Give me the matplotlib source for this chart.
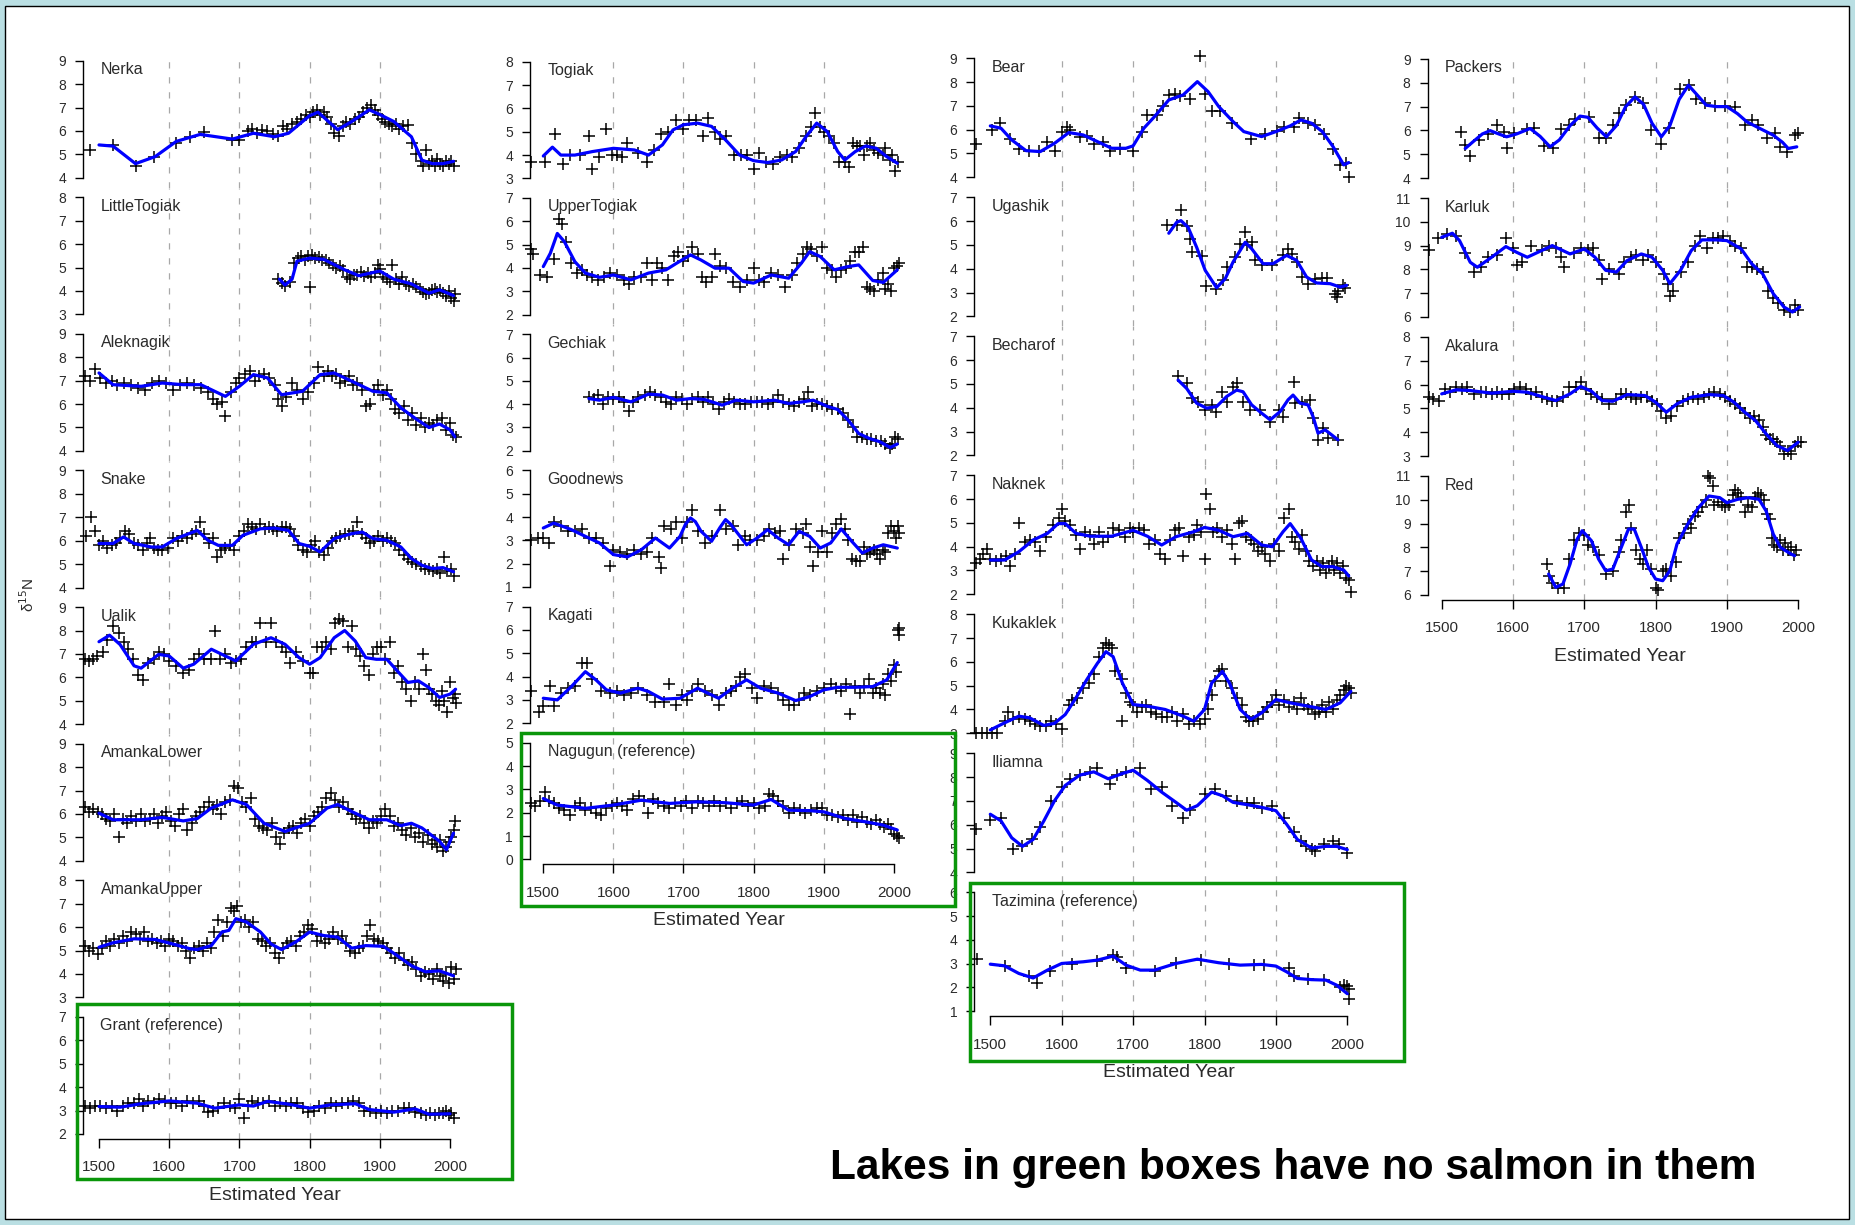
import matplotlib
matplotlib.use('Agg')
import matplotlib.pyplot as plt
from matplotlib.patches import Rectangle

plt.rcParams.update({
    'font.family': ['Liberation Sans', 'DejaVu Sans'],
    'axes.linewidth': 1.0,
})

# ---- data: (estimated year, d15N) samples and smoothed fits per lake ----
NERKA = [(1487,5.2),(1520,5.4),(1552,4.5),(1578,4.9),(1610,5.5),(1630,5.75),(1650,5.95),(1690,5.6),(1700,5.6),
         (1712,6.0),(1718,6.1),(1725,5.9),(1732,6.05),(1740,6.0),(1748,5.85),(1755,5.8),(1762,6.2),(1768,6.1),
         (1775,6.3),(1782,6.4),(1788,6.5),(1795,6.7),(1800,6.6),(1805,6.8),(1810,6.9),(1815,6.7),(1820,6.8),
         (1825,6.6),(1830,6.3),(1835,5.9),(1842,5.8),(1848,6.2),(1852,6.4),(1858,6.3),(1864,6.5),(1870,6.6),
         (1876,6.8),(1882,7.0),(1888,7.1),(1893,6.9),(1898,6.7),(1903,6.5),(1908,6.4),(1913,6.3),(1918,6.2),
         (1923,6.3),(1928,6.1),(1933,6.2),(1940,6.25),(1946,5.5),(1952,5.0),(1958,4.7),(1962,4.5),(1966,5.2),
         (1970,4.6),(1974,4.7),(1978,4.5),(1982,4.8),(1986,4.6),(1990,4.5),(1994,4.7),(1998,4.6),(2002,4.7),(2006,4.5)]
NERKA_FIT = [(1500,5.4),(1520,5.35),(1552,4.6),(1580,4.9),(1610,5.55),(1644,5.85),(1690,5.65),(1720,5.9),(1750,5.75),
             (1770,5.9),(1800,6.65),(1812,6.8),(1840,6.05),(1860,6.4),(1885,6.9),(1900,6.7),(1920,6.4),(1945,5.75),
             (1960,4.75),(1975,4.6),(1990,4.6),(2005,4.7)]

LITTLETOGIAK = [(1755,4.5),(1760,4.35),(1765,4.2),(1772,4.4),(1778,5.2),(1783,5.4),(1788,5.5),(1793,5.3),(1798,5.5),
                (1800,4.15),(1803,5.55),(1808,5.4),(1813,5.45),(1818,5.3),(1823,5.3),(1828,5.2),(1833,5.1),(1838,5.0),
                (1843,5.05),(1848,4.9),(1853,4.6),(1858,4.5),(1863,4.7),(1868,4.7),(1873,4.8),(1878,4.65),(1883,4.75),
                (1888,4.6),(1893,4.75),(1897,5.1),(1900,4.95),(1905,4.6),(1910,4.5),(1914,4.4),(1918,5.1),(1923,4.5),
                (1928,4.3),(1932,4.6),(1937,4.3),(1942,4.2),(1947,4.3),(1952,4.15),(1957,4.1),(1962,3.95),(1966,3.85),
                (1970,3.9),(1974,4.05),(1978,4.1),(1982,3.95),(1986,4.05),(1990,3.9),(1994,3.8),(1998,4.0),(2002,3.7),
                (2005,3.55),(2007,3.85)]
LITTLETOGIAK_FIT = [(1757,4.5),(1765,4.25),(1775,4.5),(1782,5.27),(1800,5.4),(1820,5.35),(1850,4.9),(1870,4.65),
                    (1900,4.85),(1920,4.5),(1945,4.3),(1970,3.9),(1985,4.05),(2005,3.8)]

ALEKNAGIK = [(1480,7.2),(1487,7.0),(1495,7.5),(1502,7.1),(1510,6.9),(1518,7.0),(1525,6.8),(1535,6.9),(1545,6.8),
             (1555,6.7),(1565,6.6),(1575,6.9),(1585,7.0),(1595,6.9),(1605,6.6),(1615,6.8),(1625,6.9),(1635,6.8),
             (1645,6.7),(1655,6.5),(1662,6.2),(1668,6.0),(1675,6.1),(1680,5.5),(1688,6.5),(1695,6.9),(1700,7.1),
             (1708,7.3),(1715,7.4),(1722,7.0),(1728,7.2),(1735,7.3),(1742,7.1),(1750,6.8),(1755,6.2),(1760,5.9),
             (1767,6.3),(1775,6.9),(1782,6.6),(1790,6.2),(1798,6.5),(1806,6.9),(1812,7.6),(1820,7.2),(1826,7.4),
             (1832,7.2),(1838,7.3),(1844,6.9),(1850,7.0),(1856,7.2),(1862,6.8),(1868,6.9),(1874,6.6),(1880,5.9),
             (1886,6.0),(1892,6.6),(1898,6.8),(1904,6.4),(1910,6.6),(1916,6.2),(1922,5.8),(1928,5.6),(1934,5.9),
             (1940,5.3),(1946,5.6),(1952,5.1),(1958,5.4),(1964,5.0),(1970,5.2),(1976,5.1),(1982,5.3),(1988,5.4),
             (1994,4.9),(2000,5.2),(2004,4.7),(2008,4.6)]
ALEKNAGIK_FIT = [(1500,7.33),(1520,6.83),(1560,6.76),(1590,6.9),(1620,6.83),(1645,6.83),(1680,6.33),(1700,6.76),
                 (1720,7.26),(1740,7.12),(1760,6.4),(1790,6.55),(1815,7.26),(1835,7.33),(1860,6.98),(1890,6.55),
                 (1910,6.48),(1930,5.84),(1950,5.4),(1970,5.0),(1985,5.15),(2000,4.9),(2007,4.6)]

SNAKE = [(1482,6.2),(1488,7.0),(1494,6.4),(1500,5.8),(1506,6.0),(1512,5.7),(1518,5.8),(1524,5.9),(1530,6.1),
         (1537,6.4),(1543,6.3),(1550,5.9),(1556,5.8),(1562,5.6),(1568,5.9),(1573,6.1),(1578,5.7),(1584,5.6),
         (1590,5.6),(1598,5.7),(1605,6.1),(1612,6.0),(1618,6.2),(1625,6.1),(1632,6.3),(1638,6.4),(1644,6.8),
         (1650,6.3),(1656,5.9),(1662,6.1),(1668,5.3),(1674,5.6),(1680,5.7),(1686,5.8),(1692,5.6),(1700,6.2),
         (1706,6.4),(1712,6.7),(1718,6.6),(1724,6.5),(1730,6.7),(1736,6.5),(1742,6.6),(1748,6.5),(1754,6.4),
         (1760,6.6),(1766,6.6),(1772,6.5),(1778,6.2),(1784,5.8),(1790,5.6),(1796,5.5),(1802,5.8),(1808,6.0),
         (1814,5.5),(1820,5.4),(1826,5.7),(1832,6.0),(1838,6.1),(1844,6.2),(1850,6.3),(1856,6.3),(1862,6.4),
         (1868,6.8),(1874,6.3),(1880,6.1),(1886,5.9),(1892,6.0),(1898,6.2),(1904,6.0),(1910,6.1),(1916,6.0),
         (1922,5.9),(1928,5.6),(1934,5.4),(1940,5.2),(1946,5.1),(1952,5.0),(1958,4.9),(1964,4.8),(1970,4.8),
         (1976,4.7),(1982,4.8),(1986,4.6),(1992,5.3),(1996,4.7),(2002,4.8),(2006,4.5)]
SNAKE_FIT = [(1500,5.88),(1520,5.88),(1535,6.16),(1550,5.88),(1575,5.73),(1590,5.73),(1610,6.09),(1640,6.44),
             (1655,6.02),(1670,5.8),(1690,5.8),(1705,6.23),(1730,6.51),(1750,6.54),(1770,6.44),(1785,5.88),
             (1800,5.76),(1815,5.52),(1835,6.09),(1860,6.3),(1875,6.37),(1890,6.09),(1910,6.02),(1930,5.73),
             (1945,5.24),(1960,4.95),(1975,4.81),(1990,4.85),(2005,4.67)]

UALIK = [(1480,6.8),(1486,6.7),(1492,6.8),(1497,6.9),(1505,7.1),(1512,7.6),(1520,8.2),(1528,7.9),(1535,7.5),
         (1542,7.2),(1548,6.8),(1555,6.1),(1562,5.9),(1570,6.6),(1578,6.8),(1585,7.1),(1592,7.0),(1600,6.7),
         (1610,6.5),(1620,6.2),(1628,6.3),(1635,6.8),(1643,7.0),(1650,6.8),(1660,6.8),(1665,8.0),(1672,6.8),
         (1680,7.0),(1688,6.6),(1695,6.7),(1702,6.8),(1710,7.3),(1718,7.5),(1724,7.5),(1730,8.3),(1738,7.5),
         (1745,8.3),(1752,7.5),(1760,7.3),(1766,7.1),(1772,6.6),(1780,7.1),(1790,6.7),(1800,6.2),(1805,6.2),
         (1810,7.3),(1818,7.3),(1824,7.5),(1830,7.2),(1836,8.3),(1842,8.5),(1848,8.4),(1854,7.3),(1860,8.2),
         (1866,7.2),(1872,6.9),(1878,6.5),(1884,6.1),(1890,7.0),(1896,7.3),(1902,7.3),(1908,6.8),(1914,7.5),
         (1920,6.2),(1926,6.5),(1932,5.8),(1938,5.5),(1944,5.0),(1950,5.8),(1956,5.5),(1962,7.0),(1966,6.3),
         (1970,5.5),(1975,5.3),(1980,5.0),(1984,4.8),(1988,5.4),(1992,5.0),(1996,4.5),(2000,5.8),(2004,5.1),
         (2007,5.3),(2009,4.9)]
UALIK_FIT = [(1500,7.52),(1515,7.8),(1530,7.4),(1550,6.49),(1560,6.39),(1585,6.98),(1600,6.91),(1620,6.39),
             (1635,6.56),(1660,7.2),(1680,6.91),(1695,6.7),(1720,7.41),(1745,7.69),(1765,7.41),(1785,6.84),
             (1800,6.56),(1815,6.84),(1835,7.69),(1850,8.0),(1865,7.55),(1880,6.84),(1895,6.77),(1910,6.77),
             (1925,6.27),(1940,5.78),(1955,5.85),(1970,5.56),(1985,5.14),(2000,5.28),(2008,5.49)]

AMANKALOWER = [(1480,6.3),(1486,6.1),(1492,6.2),(1498,6.1),(1504,6.0),(1510,5.8),(1516,5.7),(1522,6.0),(1528,5.0),
               (1534,5.8),(1540,5.6),(1546,5.9),(1552,5.7),(1560,6.0),(1566,5.7),(1572,5.8),(1578,6.0),(1584,5.6),
               (1590,5.9),(1596,6.1),(1602,5.7),(1608,5.5),(1614,6.0),(1620,6.2),(1626,5.3),(1632,5.6),(1638,5.9),
               (1644,6.1),(1650,6.3),(1656,6.5),(1662,6.2),(1668,6.4),(1674,6.0),(1680,6.5),(1686,6.6),(1692,7.2),
               (1698,7.1),(1704,6.5),(1710,6.3),(1716,6.7),(1722,5.8),(1728,5.5),(1734,5.4),(1740,5.3),(1746,5.6),
               (1752,5.0),(1758,4.7),(1764,5.2),(1770,5.4),(1776,5.5),(1782,5.2),(1788,5.6),(1794,5.8),(1800,5.5),
               (1806,5.9),(1812,6.1),(1818,6.3),(1824,6.7),(1830,6.9),(1836,6.6),(1842,6.3),(1848,6.5),(1854,6.2),
               (1860,6.0),(1866,5.8),(1872,5.9),(1878,5.6),(1884,5.4),(1890,5.7),(1896,5.6),(1902,5.9),(1908,6.2),
               (1914,5.9),(1920,5.5),(1926,5.6),(1932,5.3),(1938,5.1),(1944,5.4),(1950,5.0),(1956,5.2),(1962,4.8),
               (1968,5.1),(1974,4.7),(1978,4.9),(1982,4.6),(1986,4.9),(1990,4.4),(1994,4.6),(1998,4.8),(2002,5.0),
               (2005,5.3),(2007,5.7)]
AMANKALOWER_FIT = [(1500,6.03),(1520,5.75),(1560,5.75),(1590,5.85),(1620,5.7),(1640,5.8),(1660,6.25),(1690,6.6),
                   (1710,6.4),(1735,5.6),(1765,5.25),(1800,5.6),(1825,6.25),(1840,6.4),(1860,6.1),(1885,5.75),
                   (1910,5.75),(1930,5.5),(1945,5.6),(1960,5.4),(1985,4.83),(1995,4.47),(2005,5.18)]

AMANKAUPPER = [(1480,5.2),(1486,5.0),(1492,5.1),(1498,4.85),(1504,5.1),(1510,5.4),(1516,5.2),(1522,5.5),(1528,5.3),
               (1534,5.6),(1540,5.4),(1546,5.8),(1552,5.7),(1558,5.5),(1564,5.8),(1570,5.4),(1576,5.5),(1582,5.3),
               (1588,5.4),(1594,5.2),(1600,5.5),(1606,5.4),(1612,5.2),(1618,5.3),(1624,5.0),(1630,4.7),(1636,5.1),
               (1642,5.2),(1648,5.0),(1654,5.3),(1660,5.1),(1664,5.8),(1670,6.3),(1676,5.6),(1682,6.2),(1688,6.8),
               (1692,6.7),(1697,6.9),(1702,6.2),(1708,6.3),(1714,6.0),(1720,6.2),(1726,5.5),(1732,5.4),(1738,5.2),
               (1744,5.3),(1750,4.9),(1756,4.7),(1762,5.1),(1768,5.3),(1774,5.4),(1780,5.2),(1786,5.6),(1792,5.8),
               (1798,6.1),(1804,5.9),(1810,5.4),(1816,5.6),(1822,5.3),(1828,5.5),(1834,5.8),(1840,5.5),(1846,5.6),
               (1852,5.3),(1858,5.0),(1864,4.9),(1870,5.1),(1876,5.2),(1882,5.6),(1886,6.1),(1892,5.5),(1898,5.4),
               (1904,5.3),(1910,5.1),(1916,4.9),(1922,4.7),(1928,4.9),(1934,4.6),(1940,4.4),(1946,4.5),(1952,4.2),
               (1958,3.9),(1964,4.1),(1970,4.0),(1976,3.8),(1982,4.2),(1986,3.9),(1990,3.7),(1994,4.0),(1998,3.6),
               (2002,4.3),(2005,3.8),(2008,4.2)]
AMANKAUPPER_FIT = [(1500,5.14),(1520,5.33),(1550,5.5),(1580,5.47),(1610,5.24),(1630,5.07),(1640,5.04),(1660,5.21),
                   (1675,5.79),(1685,5.86),(1695,6.36),(1710,6.22),(1730,5.79),(1745,5.28),(1760,5.04),(1780,5.36),
                   (1800,5.79),(1820,5.64),(1840,5.57),(1860,5.1),(1880,5.21),(1905,5.18),(1925,4.78),(1945,4.35),
                   (1965,4.09),(1985,4.13),(2005,3.92)]

GRANT = [(1480,3.2),(1487,3.1),(1494,3.2),(1502,3.2),(1510,3.1),(1518,3.2),(1526,3.0),(1534,3.2),(1542,3.3),
         (1550,3.3),(1557,3.5),(1563,3.2),(1570,3.4),(1578,3.3),(1586,3.5),(1594,3.4),(1602,3.3),(1610,3.3),
         (1618,3.2),(1626,3.4),(1634,3.3),(1642,3.4),(1650,3.2),(1655,2.95),(1662,3.0),(1670,3.1),(1678,3.3),
         (1686,3.2),(1694,3.1),(1700,3.5),(1706,2.7),(1712,3.2),(1718,3.4),(1726,3.3),(1734,3.3),(1742,3.4),
         (1750,3.2),(1758,3.3),(1766,3.2),(1774,3.3),(1782,3.3),(1790,3.1),(1798,2.95),(1806,3.0),(1814,3.2),
         (1822,3.1),(1830,3.3),(1838,3.2),(1846,3.3),(1854,3.3),(1862,3.4),(1870,3.3),(1878,3.0),(1886,3.0),
         (1894,2.9),(1902,3.0),(1910,2.9),(1918,3.0),(1926,3.0),(1934,3.1),(1942,3.1),(1950,2.95),(1958,2.9),
         (1966,2.8),(1972,2.9),(1978,2.8),(1984,2.9),(1990,2.9),(1994,3.0),(1998,2.8),(2002,2.9),(2006,2.7)]
GRANT_FIT = [(1500,3.17),(1530,3.14),(1560,3.29),(1600,3.41),(1640,3.31),(1665,3.1),(1700,3.24),(1720,3.19),
             (1740,3.39),(1770,3.27),(1800,3.1),(1830,3.24),(1865,3.29),(1885,3.04),(1920,2.93),(1950,3.07),
             (1970,2.84),(2000,2.86)]

TOGIAK = [(1482,3.7),(1502,3.7),(1516,4.9),(1528,3.6),(1538,4.0),(1552,4.0),(1565,4.8),(1570,3.4),(1580,3.9),
          (1590,5.1),(1598,4.0),(1605,4.0),(1612,3.9),(1620,4.5),(1635,4.1),(1648,3.7),(1658,4.2),(1668,4.9),
          (1678,5.0),(1690,5.5),(1700,5.1),(1708,5.5),(1718,5.5),(1728,4.8),(1735,5.6),(1745,5.0),(1752,4.7),
          (1760,4.8),(1772,4.0),(1782,4.0),(1790,4.0),(1800,3.4),(1808,4.1),(1818,3.7),(1828,3.6),(1838,3.9),
          (1848,4.0),(1855,3.9),(1865,4.3),(1875,4.8),(1882,5.2),(1888,5.8),(1895,5.2),(1900,5.0),(1908,4.8),
          (1915,4.5),(1922,3.7),(1930,3.7),(1936,3.5),(1942,4.5),(1948,4.4),(1952,4.4),(1958,4.0),(1962,4.4),
          (1966,4.5),(1972,4.2),(1978,4.1),(1984,4.0),(1988,4.3),(1994,3.8),(1998,4.0),(2002,3.3),(2006,3.7)]
TOGIAK_FIT = [(1500,3.96),(1513,4.34),(1525,4.0),(1545,4.0),(1570,4.15),(1600,4.29),(1630,4.22),(1650,4.0),
              (1670,4.44),(1685,5.08),(1700,5.3),(1720,5.37),(1740,5.23),(1760,4.65),(1780,4.0),(1800,3.76),
              (1820,3.68),(1840,3.79),(1860,4.15),(1875,4.8),(1890,5.37),(1905,5.01),(1920,4.15),(1930,3.79),
              (1945,4.15),(1960,4.39),(1975,4.29),(1990,3.93),(2005,3.65)]

UPPERTOGIAK = [(1482,4.8),(1485,4.6),(1496,3.7),(1505,3.6),(1515,4.4),(1522,6.1),(1527,5.9),(1532,5.1),(1540,4.2),
               (1548,3.8),(1555,3.9),(1562,3.7),(1570,3.6),(1578,3.5),(1586,3.6),(1595,3.8),(1605,3.7),(1615,3.5),
               (1622,3.3),(1630,3.6),(1640,3.6),(1648,4.2),(1655,3.5),(1662,4.2),(1670,4.0),(1678,3.5),(1686,4.5),
               (1692,4.7),(1700,4.3),(1707,4.5),(1712,4.9),(1720,4.6),(1726,3.6),(1732,3.4),(1740,3.6),(1745,4.6),
               (1752,4.1),(1760,4.0),(1770,3.4),(1780,3.2),(1790,3.5),(1800,4.0),(1808,3.5),(1815,3.4),(1825,3.8),
               (1835,3.7),(1845,3.2),(1855,3.7),(1862,4.2),(1870,4.6),(1876,4.9),(1882,4.8),(1890,4.5),(1898,4.9),
               (1905,4.0),(1912,3.9),(1918,3.6),(1925,3.9),(1932,4.0),(1938,4.3),(1944,4.7),(1950,4.7),(1956,4.9),
               (1962,3.2),(1966,3.1),(1972,3.0),(1978,3.5),(1984,3.8),(1988,3.1),(1992,3.3),(1996,3.0),(2000,4.0),
               (2004,4.1),(2008,4.2)]
UPPERTOGIAK_FIT = [(1500,4.06),(1510,4.63),(1520,5.48),(1530,5.13),(1545,4.27),(1560,3.78),(1580,3.6),(1600,3.7),
                   (1625,3.49),(1650,3.78),(1675,3.92),(1690,4.2),(1710,4.56),(1725,4.34),(1745,3.99),(1765,3.99),
                   (1785,3.42),(1800,3.35),(1825,3.7),(1850,3.56),(1868,4.2),(1880,4.7),(1895,4.49),(1915,3.92),
                   (1935,4.06),(1950,4.13),(1970,3.46),(1985,3.38),(2005,3.92)]

GECHIAK = [(1565,4.3),(1572,4.2),(1578,4.4),(1585,4.0),(1592,4.3),(1600,4.2),(1608,4.3),(1615,4.1),(1622,3.7),
           (1628,4.1),(1635,4.3),(1645,4.4),(1652,4.5),(1660,4.4),(1668,4.3),(1675,4.1),(1682,4.0),(1690,4.3),
           (1698,4.2),(1705,4.0),(1712,4.2),(1720,4.3),(1728,4.1),(1735,4.3),(1742,4.0),(1750,3.8),(1758,4.1),
           (1765,4.2),(1772,4.1),(1780,4.0),(1788,4.0),(1796,4.1),(1805,4.1),(1812,4.1),(1820,4.0),(1828,4.1),
           (1835,4.4),(1842,4.1),(1850,4.0),(1858,3.9),(1865,4.1),(1872,4.2),(1878,4.5),(1883,3.9),(1890,4.0),
           (1898,4.0),(1905,3.9),(1912,3.8),(1920,3.8),(1928,3.6),(1935,3.3),(1942,3.0),(1948,2.6),(1955,2.6),
           (1962,2.5),(1968,2.5),(1975,2.4),(1982,2.4),(1988,2.3),(1994,2.1),(1998,2.3),(2002,2.6),(2006,2.5)]
GECHIAK_FIT = [(1565,4.24),(1580,4.17),(1600,4.29),(1625,4.1),(1650,4.43),(1670,4.39),(1690,4.17),(1710,4.24),
               (1730,4.2),(1755,3.96),(1775,4.17),(1800,4.1),(1830,4.17),(1850,4.03),(1870,4.1),(1885,4.17),
               (1905,3.91),(1920,3.77),(1935,3.31),(1950,2.74),(1965,2.53),(1980,2.39),(1995,2.14),(2005,2.29)]

GOODNEWS = [(1483,3.0),(1492,3.1),(1500,3.1),(1508,2.9),(1515,3.8),(1525,3.6),(1535,3.4),(1545,3.4),(1555,3.5),
            (1565,3.1),(1575,3.1),(1585,2.9),(1595,1.9),(1600,2.6),(1610,2.5),(1620,2.4),(1630,2.6),(1640,2.4),
            (1648,2.5),(1655,3.1),(1665,2.3),(1668,1.8),(1672,3.6),(1682,3.5),(1690,3.8),(1698,3.1),(1705,3.8),
            (1712,4.3),(1720,3.4),(1730,2.9),(1740,3.2),(1752,4.3),(1760,3.5),(1770,3.6),(1778,2.8),(1788,3.2),
            (1795,3.0),(1805,3.0),(1815,3.2),(1822,3.5),(1830,3.3),(1838,3.4),(1842,2.2),(1850,2.8),(1860,3.5),
            (1870,3.3),(1875,3.7),(1880,2.7),(1885,1.9),(1892,2.5),(1898,3.4),(1905,2.5),(1912,3.3),(1918,3.7),
            (1924,3.9),(1930,3.5),(1935,3.0),(1940,2.2),(1946,2.1),(1952,2.1),(1958,2.7),(1962,2.4),(1966,2.5),
            (1972,2.6),(1976,2.4),(1980,2.2),(1984,2.6),(1988,2.5),(1992,3.3),(1996,3.6),(2000,3.4),(2003,3.1),
            (2006,3.6),(2008,3.3)]
GOODNEWS_FIT = [(1500,3.53),(1515,3.74),(1540,3.46),(1565,3.1),(1580,2.89),(1600,2.39),(1620,2.29),(1640,2.6),
                (1660,3.1),(1680,2.67),(1695,3.17),(1703,3.7),(1710,3.96),(1717,3.8),(1725,3.39),(1740,2.96),
                (1752,3.55),(1760,3.89),(1767,3.7),(1775,3.39),(1790,2.81),(1805,3.1),(1820,3.46),(1835,3.1),
                (1850,2.81),(1865,3.39),(1880,3.17),(1895,2.67),(1910,2.89),(1925,3.49),(1940,2.96),(1955,2.46),
                (1970,2.67),(1985,2.81),(2005,2.67)]

KAGATI = [(1483,3.4),(1494,2.5),(1500,2.75),(1510,3.6),(1515,2.75),(1525,3.3),(1535,3.5),(1545,3.6),(1555,4.6),
          (1562,4.6),(1570,3.9),(1582,3.4),(1595,3.3),(1605,3.4),(1615,3.2),(1625,3.3),(1635,3.5),(1648,3.2),
          (1660,2.9),(1672,2.9),(1680,3.7),(1690,2.8),(1698,3.2),(1705,3.0),(1712,3.4),(1720,3.7),(1730,3.4),
          (1740,3.2),(1750,2.8),(1760,3.3),(1768,3.4),(1775,3.6),(1780,4.0),(1788,4.1),(1798,3.5),(1805,3.1),
          (1815,3.6),(1825,3.5),(1835,3.3),(1842,3.0),(1850,2.8),(1858,2.8),(1865,3.0),(1872,3.3),(1880,3.2),
          (1890,3.4),(1900,3.5),(1910,3.7),(1918,3.5),(1925,3.4),(1932,3.7),(1938,2.4),(1945,3.6),(1952,3.3),
          (1958,3.6),(1965,3.9),(1970,3.3),(1975,3.5),(1980,3.3),(1984,3.7),(1988,3.2),(1992,4.1),(1996,3.8),
          (2000,4.5),(2003,4.2),(2006,6.0),(2007,5.8),(2008,6.1)]
KAGATI_FIT = [(1500,3.07),(1520,3.0),(1540,3.57),(1560,4.21),(1575,3.86),(1590,3.43),(1610,3.29),(1635,3.5),
              (1650,3.36),(1670,3.03),(1695,3.07),(1720,3.5),(1750,3.07),(1770,3.5),(1790,3.86),(1810,3.5),
              (1835,3.29),(1860,2.97),(1880,3.14),(1900,3.43),(1920,3.54),(1945,3.54),(1970,3.57),(1990,3.86),
              (2005,4.6)]

NAGUGUN = [(1483,2.4),(1488,2.3),(1495,2.5),(1502,2.9),(1508,2.5),(1515,2.4),(1522,2.2),(1530,2.1),(1538,1.9),
           (1545,2.3),(1552,2.4),(1560,2.1),(1568,2.2),(1575,2.0),(1582,1.9),(1590,2.2),(1598,2.3),(1605,2.4),
           (1612,2.3),(1620,2.1),(1628,2.6),(1636,2.7),(1644,2.5),(1650,2.0),(1656,2.6),(1664,2.4),(1672,2.3),
           (1680,2.2),(1688,2.4),(1696,2.3),(1704,2.5),(1712,2.2),(1720,2.5),(1728,2.4),(1736,2.3),(1744,2.5),
           (1752,2.3),(1760,2.4),(1768,2.2),(1776,2.4),(1784,2.5),(1792,2.3),(1800,2.4),(1808,2.2),(1816,2.3),
           (1822,2.8),(1828,2.7),(1835,2.5),(1842,2.3),(1850,2.0),(1858,2.2),(1866,2.1),(1874,2.0),(1882,2.1),
           (1890,2.2),(1898,2.2),(1905,1.9),(1912,1.9),(1920,1.8),(1928,1.9),(1935,1.7),(1942,1.9),(1948,1.6),
           (1955,1.8),(1962,1.6),(1968,1.5),(1974,1.7),(1980,1.5),(1986,1.4),(1992,1.5),(1996,1.3),(2000,1.1),
           (2004,1.0),(2007,0.9)]
NAGUGUN_FIT = [(1500,2.61),(1520,2.33),(1560,2.19),(1600,2.33),(1640,2.54),(1680,2.4),(1720,2.47),(1760,2.43),
               (1800,2.33),(1825,2.57),(1850,2.11),(1880,2.09),(1900,2.04),(1930,1.76),(1960,1.61),(1985,1.47),
               (2005,1.26)]

BEAR = [(1480,5.4),(1503,6.0),(1514,6.3),(1528,5.6),(1540,5.2),(1554,5.1),(1568,5.1),(1580,5.5),(1590,5.1),
        (1600,5.9),(1607,6.1),(1612,6.0),(1625,5.7),(1635,5.75),(1645,5.4),(1658,5.5),(1668,5.1),(1682,5.2),
        (1700,5.1),(1712,5.9),(1720,6.6),(1733,6.6),(1742,7.0),(1750,7.45),(1758,7.5),(1765,7.4),(1780,7.3),
        (1793,9.1),(1800,7.5),(1810,6.8),(1822,6.8),(1838,6.3),(1865,5.6),(1885,5.8),(1902,5.95),(1912,6.1),
        (1925,6.1),(1933,6.5),(1945,6.3),(1955,6.2),(1967,5.8),(1980,5.2),(1990,4.5),(1998,4.6),(2002,4.0)]
BEAR_FIT = [(1500,6.16),(1515,6.06),(1530,5.57),(1550,5.12),(1570,5.08),(1590,5.43),(1610,5.88),(1630,5.78),
            (1650,5.5),(1670,5.22),(1690,5.22),(1700,5.32),(1715,6.06),(1730,6.55),(1750,7.25),(1770,7.46),
            (1790,8.02),(1805,7.6),(1820,6.97),(1840,6.34),(1855,5.92),(1880,5.71),(1900,5.92),(1920,6.16),
            (1935,6.41),(1950,6.27),(1965,5.92),(1980,5.29),(1995,4.52),(2002,4.62)]

UGASHIK = [(1748,5.84),(1762,5.84),(1767,6.48),(1775,5.81),(1779,5.25),(1783,4.7),(1796,4.52),(1802,3.26),
           (1816,3.16),(1826,3.54),(1832,4.07),(1843,4.49),(1850,5.04),(1857,5.53),(1860,5.01),(1867,5.11),
           (1871,4.35),(1880,4.14),(1894,4.14),(1910,4.56),(1917,4.84),(1922,4.63),(1929,4.28),(1936,3.65),
           (1945,3.34),(1955,3.58),(1964,3.62),(1971,3.62),(1983,2.95),(1985,2.81),(1987,3.06),(1994,3.3),(1997,3.2)]
UGASHIK_FIT = [(1750,5.49),(1761,5.95),(1767,6.02),(1777,5.74),(1789,4.9),(1801,3.93),(1817,3.2),(1829,3.58),
               (1840,4.28),(1857,5.11),(1866,4.84),(1882,4.21),(1896,4.21),(1915,4.56),(1929,4.35),(1943,3.65),
               (1957,3.4),(1976,3.37),(1990,3.23),(1999,3.3)]

BECHAROF = [(1763,5.33),(1775,5.02),(1782,4.4),(1791,4.26),(1801,3.91),(1810,4.12),(1816,3.84),(1824,4.67),
            (1831,4.26),(1840,4.88),(1845,5.02),(1854,4.26),(1864,3.91),(1878,3.91),(1892,3.42),(1904,3.91),
            (1910,3.63),(1925,5.09),(1927,4.19),(1936,4.26),(1948,4.33),(1952,3.56),(1959,2.65),(1966,3.14),
            (1973,2.72),(1987,2.65)]
BECHAROF_FIT = [(1763,5.16),(1775,4.81),(1789,4.19),(1803,3.98),(1817,4.05),(1831,4.47),(1845,4.74),(1854,4.67),
                (1866,4.12),(1880,3.77),(1892,3.49),(1906,3.84),(1917,4.33),(1924,4.53),(1934,4.19),(1945,4.12),
                (1952,3.63),(1959,2.93),(1969,3.07),(1987,2.65)]

NAKNEK = [(1480,3.3),(1485,3.5),(1490,3.7),(1495,3.9),(1500,3.5),(1508,3.4),(1515,3.5),(1522,3.6),(1528,3.2),
          (1535,3.7),(1540,5.0),(1548,4.2),(1555,4.3),(1562,4.2),(1570,3.8),(1578,4.4),(1588,4.9),(1596,5.2),
          (1600,5.6),(1605,5.1),(1612,4.9),(1620,4.5),(1625,3.9),(1632,4.6),(1640,4.5),(1645,4.1),(1652,4.6),
          (1658,4.2),(1665,4.4),(1672,4.8),(1680,4.7),(1688,4.4),(1695,4.8),(1700,4.6),(1708,4.8),(1715,4.7),
          (1722,4.1),(1730,4.3),(1738,3.7),(1745,3.5),(1752,4.3),(1758,4.7),(1764,4.8),(1770,3.6),(1778,4.4),
          (1785,4.5),(1790,4.9),(1795,4.6),(1800,3.5),(1802,6.2),(1808,5.6),(1812,4.6),(1818,4.8),(1825,4.4),
          (1832,4.7),(1838,4.1),(1843,3.5),(1848,5.0),(1852,5.1),(1858,4.4),(1865,4.3),(1870,4.1),(1875,3.8),
          (1880,4.0),(1885,3.7),(1892,3.4),(1898,4.1),(1905,3.8),(1912,5.2),(1918,5.6),(1922,4.4),(1927,4.2),
          (1932,3.9),(1937,4.5),(1942,3.8),(1947,3.4),(1952,3.2),(1957,3.4),(1962,3.0),(1966,3.3),(1970,2.9),
          (1974,3.2),(1978,3.4),(1982,3.0),(1986,3.3),(1990,2.9),(1994,3.2),(1998,2.7),(2002,2.6),(2005,2.1)]
NAKNEK_FIT = [(1500,3.44),(1520,3.44),(1540,3.79),(1560,4.28),(1580,4.56),(1595,4.97),(1605,4.97),(1620,4.56),
              (1640,4.44),(1670,4.44),(1700,4.69),(1720,4.44),(1740,4.07),(1760,4.42),(1785,4.63),(1800,4.81),
              (1820,4.69),(1840,4.42),(1860,4.56),(1880,4.07),(1895,4.0),(1910,4.63),(1920,4.97),(1935,4.35),
              (1950,3.44),(1965,3.16),(1980,3.16),(1995,3.02),(2002,2.77)]

KUKAKLEK = [(1480,3.0),(1488,3.0),(1495,3.0),(1502,3.0),(1510,3.0),(1520,3.5),(1525,3.9),(1532,3.6),(1540,3.7),
            (1548,3.6),(1555,3.5),(1562,3.4),(1570,3.3),(1578,3.3),(1585,3.5),(1592,3.4),(1600,3.2),(1610,4.2),
            (1615,4.4),(1622,4.5),(1630,4.9),(1638,5.1),(1645,5.5),(1652,6.2),(1658,6.6),(1662,6.8),(1666,6.7),
            (1670,6.6),(1675,5.6),(1684,3.5),(1685,5.3),(1690,4.7),(1695,4.3),(1700,4.2),(1705,3.9),(1712,4.1),
            (1718,4.2),(1725,3.9),(1732,3.8),(1740,3.7),(1748,3.7),(1755,3.9),(1762,3.5),(1770,3.8),(1778,3.4),
            (1785,3.5),(1793,3.4),(1800,3.6),(1805,4.0),(1810,4.6),(1815,5.2),(1820,5.6),(1825,5.7),(1830,5.2),
            (1838,4.9),(1845,4.5),(1852,4.2),(1858,3.7),(1862,3.5),(1868,3.5),(1875,3.6),(1882,3.9),(1888,4.1),
            (1895,4.3),(1900,4.6),(1905,4.2),(1912,4.4),(1918,4.1),(1925,4.3),(1930,4.0),(1935,4.5),(1940,4.2),
            (1945,4.0),(1950,4.1),(1955,3.8),(1960,3.9),(1965,4.2),(1970,3.9),(1975,4.3),(1980,4.0),(1985,4.4),
            (1990,4.6),(1995,4.8),(1998,5.0),(2002,4.9),(2005,4.7)]
KUKAKLEK_FIT = [(1500,3.14),(1520,3.44),(1540,3.72),(1555,3.65),(1575,3.33),(1590,3.42),(1605,3.79),(1620,4.49),
                (1635,5.25),(1650,5.94),(1662,6.43),(1672,6.22),(1685,5.11),(1700,4.21),(1720,4.14),(1745,4.0),
                (1770,3.72),(1785,3.51),(1800,4.0),(1810,5.11),(1825,5.6),(1835,5.11),(1850,4.0),(1865,3.58),
                (1880,3.86),(1900,4.42),(1920,4.28),(1945,4.14),(1970,4.0),(1990,4.28),(2005,4.76)]

ILIAMNA = [(1480,5.8),(1500,6.2),(1515,6.3),(1532,5.0),(1545,5.1),(1558,5.4),(1570,5.9),(1585,7.0),(1600,7.6),
           (1612,7.9),(1625,8.1),(1640,8.2),(1650,8.4),(1668,7.7),(1678,8.1),(1690,8.2),(1710,8.4),(1725,7.5),
           (1740,7.6),(1755,6.8),(1770,6.3),(1780,6.6),(1800,7.3),(1815,7.5),(1830,7.2),(1845,7.0),(1860,6.9),
           (1870,6.9),(1880,6.7),(1895,6.8),(1912,6.3),(1925,5.7),(1935,5.3),(1942,5.1),(1950,5.0),(1955,4.9),
           (1968,5.2),(1980,5.3),(1988,5.2),(2000,4.8)]
ILIAMNA_FIT = [(1500,6.44),(1515,6.16),(1530,5.45),(1545,5.09),(1560,5.38),(1575,6.16),(1590,7.01),(1605,7.65),
               (1625,8.08),(1645,8.22),(1665,7.93),(1685,8.15),(1700,8.29),(1720,7.86),(1740,7.37),(1760,6.94),
               (1775,6.61),(1790,6.8),(1810,7.37),(1825,7.22),(1840,6.94),(1860,6.84),(1880,6.73),(1900,6.59),
               (1915,6.02),(1930,5.38),(1950,5.02),(1970,5.09),(1985,5.09),(2000,4.95)]

TAZIMINA = [(1482,3.2),(1521,2.9),(1554,2.5),(1565,2.2),(1583,2.7),(1615,3.0),(1650,3.1),(1672,3.35),(1678,3.3),
            (1690,2.8),(1730,2.7),(1760,3.05),(1795,3.15),(1835,3.0),(1870,2.95),(1883,2.95),(1918,2.8),(1925,2.5),
            (1945,2.35),(1968,2.3),(1990,2.0),(1996,2.1),(2000,2.05),(2002,1.5),(2003,1.95)]
TAZIMINA_FIT = [(1500,2.98),(1520,2.91),(1540,2.59),(1560,2.4),(1580,2.73),(1600,3.01),(1630,3.08),(1650,3.15),
                (1672,3.32),(1690,2.94),(1710,2.73),(1730,2.73),(1760,3.01),(1790,3.19),(1820,3.04),(1850,2.94),
                (1880,2.97),(1900,2.9),(1915,2.66),(1930,2.38),(1950,2.33),(1970,2.31),(1985,2.1),(2000,1.74)]

PACKERS = [(1527,5.94),(1533,5.38),(1540,4.91),(1553,5.61),(1565,5.84),(1577,6.22),(1587,5.94),(1592,5.26),
           (1602,5.87),(1619,6.04),(1629,6.08),(1643,5.33),(1656,5.24),(1668,6.04),(1679,6.22),(1687,6.46),
           (1707,6.57),(1720,5.7),(1731,5.7),(1740,6.22),(1748,6.74),(1759,7.06),(1771,7.41),(1783,7.16),
           (1794,6.01),(1808,5.42),(1819,6.12),(1834,7.76),(1847,7.9),(1857,7.34),(1869,7.16),(1883,7.02),
           (1897,7.02),(1911,6.99),(1925,6.22),(1935,6.43),(1944,6.22),(1956,5.69),(1967,5.87),(1974,5.31),
           (1984,5.1),(1995,5.8),(2000,5.87)]
PACKERS_FIT = [(1533,5.24),(1545,5.55),(1557,5.85),(1568,5.99),(1580,5.85),(1591,5.73),(1605,5.85),(1624,6.08),
               (1638,5.75),(1652,5.31),(1665,5.6),(1680,6.2),(1694,6.6),(1705,6.55),(1718,6.1),(1731,5.73),
               (1745,6.2),(1758,7.0),(1771,7.41),(1783,7.1),(1795,6.3),(1808,5.73),(1820,6.2),(1833,7.3),
               (1846,7.9),(1858,7.5),(1871,7.06),(1885,7.0),(1900,7.0),(1915,6.7),(1928,6.36),(1945,6.1),
               (1965,5.8),(1978,5.5),(1986,5.24),(1998,5.31)]

KARLUK = [(1482,8.8),(1495,9.3),(1508,9.5),(1520,9.4),(1532,8.7),(1545,7.9),(1555,8.1),(1565,8.5),(1578,8.6),
          (1590,9.3),(1600,8.9),(1605,8.2),(1612,8.3),(1625,9.0),(1640,8.8),(1650,9.0),(1660,8.9),(1668,8.5),
          (1672,8.1),(1685,8.7),(1695,8.9),(1705,8.8),(1712,8.9),(1720,8.4),(1725,7.6),(1735,8.0),(1748,7.8),
          (1755,8.3),(1765,8.5),(1772,8.6),(1782,8.4),(1790,8.6),(1800,8.3),(1812,7.8),(1818,7.4),(1820,6.9),
          (1825,7.1),(1835,7.9),(1845,8.3),(1855,9.0),(1862,9.4),(1872,8.9),(1880,9.3),(1888,9.3),(1895,9.4),
          (1905,9.2),(1912,9.0),(1920,8.9),(1928,8.1),(1935,8.1),(1942,8.0),(1950,7.9),(1958,7.1),(1965,6.8),
          (1972,6.6),(1980,6.3),(1988,6.2),(1995,6.5),(2000,6.3)]
KARLUK_FIT = [(1500,9.35),(1515,9.52),(1525,9.21),(1540,8.3),(1550,8.09),(1570,8.51),(1590,8.96),(1605,8.72),
              (1620,8.51),(1640,8.79),(1655,9.0),(1680,8.65),(1700,8.86),(1715,8.51),(1730,7.96),(1745,7.89),
              (1760,8.37),(1780,8.65),(1795,8.51),(1810,7.96),(1820,7.4),(1835,7.96),(1850,8.79),(1865,9.24),
              (1885,9.24),(1900,9.21),(1920,8.86),(1935,8.23),(1950,7.82),(1965,6.98),(1980,6.42),(1992,6.21),
              (2002,6.42)]

AKALURA = [(1482,5.5),(1488,5.4),(1496,5.3),(1505,5.8),(1512,5.7),(1520,5.9),(1528,5.8),(1535,5.9),(1545,5.6),
           (1555,5.7),(1562,5.7),(1570,5.6),(1578,5.7),(1585,5.6),(1595,5.6),(1602,5.8),(1610,5.9),(1618,5.8),
           (1625,5.6),(1632,5.7),(1640,5.5),(1648,5.4),(1655,5.3),(1662,5.3),(1670,5.5),(1678,5.9),(1688,5.9),
           (1695,6.1),(1702,5.8),(1710,5.6),(1718,5.5),(1725,5.4),(1735,5.2),(1745,5.4),(1752,5.6),(1758,5.6),
           (1765,5.5),(1772,5.4),(1780,5.5),(1788,5.5),(1795,5.3),(1802,5.2),(1808,4.9),(1815,4.6),(1822,4.7),
           (1830,5.1),(1838,5.3),(1845,5.4),(1852,5.5),(1860,5.4),(1868,5.5),(1875,5.6),(1882,5.7),(1890,5.6),
           (1898,5.5),(1905,5.3),(1912,5.2),(1918,5.0),(1925,4.8),(1932,4.6),(1938,4.7),(1945,4.5),(1950,4.2),
           (1955,3.9),(1960,3.7),(1965,3.7),(1970,3.6),(1975,3.4),(1980,3.1),(1985,3.2),(1990,3.1),(1995,3.4),
           (2000,3.6),(2004,3.6)]
AKALURA_FIT = [(1500,5.61),(1520,5.78),(1540,5.75),(1570,5.64),(1600,5.72),(1620,5.68),(1640,5.5),(1660,5.33),
               (1680,5.61),(1695,5.92),(1710,5.72),(1725,5.33),(1740,5.3),(1760,5.58),(1785,5.54),(1800,5.26),
               (1815,4.84),(1830,5.19),(1850,5.47),(1875,5.58),(1895,5.54),(1910,5.26),(1925,4.84),(1940,4.49),
               (1955,3.93),(1970,3.44),(1985,3.23),(2000,3.58)]

RED = [(1647,7.3),(1650,6.8),(1655,6.5),(1663,6.3),(1672,6.3),(1678,7.5),(1685,8.3),(1693,8.6),(1700,8.5),
       (1705,8.1),(1712,8.0),(1720,7.7),(1730,6.9),(1740,7.0),(1748,7.8),(1752,8.3),(1758,9.5),(1762,9.8),
       (1765,8.8),(1773,7.9),(1778,7.5),(1783,7.3),(1788,7.9),(1793,7.1),(1800,6.3),(1803,6.2),(1810,7.0),
       (1815,7.1),(1822,6.8),(1828,7.4),(1833,8.4),(1840,8.6),(1845,9.0),(1850,8.8),(1855,9.3),(1860,9.5),
       (1865,9.7),(1870,10.0),(1873,11.0),(1876,10.9),(1880,10.6),(1882,9.8),(1888,9.9),(1893,9.8),(1898,9.7),
       (1903,9.8),(1908,10.2),(1912,10.4),(1915,10.3),(1920,10.1),(1925,9.5),(1930,9.8),(1935,9.7),(1940,10.1),
       (1944,10.3),(1948,10.2),(1952,10.0),(1956,9.4),(1960,9.2),(1963,8.4),(1966,8.1),(1970,8.0),(1974,8.3),
       (1978,7.9),(1982,8.2),(1986,7.9),(1990,8.0),(1994,7.7),(1997,7.9)]
RED_FIT = [(1650,6.88),(1660,6.32),(1670,6.46),(1680,7.3),(1690,8.35),(1697,8.7),(1710,8.28),(1720,7.51),
           (1730,7.02),(1740,7.09),(1750,7.86),(1762,8.77),(1770,8.77),(1780,8.0),(1790,7.16),(1800,6.67),
           (1810,6.6),(1820,7.02),(1830,8.14),(1845,8.97),(1860,9.67),(1875,10.16),(1890,10.09),(1900,9.88),
           (1915,10.02),(1930,10.09),(1945,10.02),(1955,9.53),(1965,8.56),(1975,8.0),(1990,7.72),(1995,7.65)]

# panel order per column: (label, y min, y max, samples, fit)
COLUMN_1 = [('Nerka', 4, 9, NERKA, NERKA_FIT),
            ('LittleTogiak', 3, 8, LITTLETOGIAK, LITTLETOGIAK_FIT),
            ('Aleknagik', 4, 9, ALEKNAGIK, ALEKNAGIK_FIT),
            ('Snake', 4, 9, SNAKE, SNAKE_FIT),
            ('Ualik', 4, 9, UALIK, UALIK_FIT),
            ('AmankaLower', 4, 9, AMANKALOWER, AMANKALOWER_FIT),
            ('AmankaUpper', 3, 8, AMANKAUPPER, AMANKAUPPER_FIT),
            ('Grant (reference)', 2, 7, GRANT, GRANT_FIT)]
COLUMN_2 = [('Togiak', 3, 8, TOGIAK, TOGIAK_FIT),
            ('UpperTogiak', 2, 7, UPPERTOGIAK, UPPERTOGIAK_FIT),
            ('Gechiak', 2, 7, GECHIAK, GECHIAK_FIT),
            ('Goodnews', 1, 6, GOODNEWS, GOODNEWS_FIT),
            ('Kagati', 2, 7, KAGATI, KAGATI_FIT),
            ('Nagugun (reference)', 0, 5, NAGUGUN, NAGUGUN_FIT)]
COLUMN_3 = [('Bear', 4, 9, BEAR, BEAR_FIT),
            ('Ugashik', 2, 7, UGASHIK, UGASHIK_FIT),
            ('Becharof', 2, 7, BECHAROF, BECHAROF_FIT),
            ('Naknek', 2, 7, NAKNEK, NAKNEK_FIT),
            ('Kukaklek', 3, 8, KUKAKLEK, KUKAKLEK_FIT),
            ('Iliamna', 4, 9, ILIAMNA, ILIAMNA_FIT),
            ('Tazimina (reference)', 1, 6, TAZIMINA, TAZIMINA_FIT)]
COLUMN_4 = [('Packers', 4, 9, PACKERS, PACKERS_FIT),
            ('Karluk', 6, 11, KARLUK, KARLUK_FIT),
            ('Akalura', 3, 8, AKALURA, AKALURA_FIT),
            ('Red', 6, 11, RED, RED_FIT)]

YEAR_TICKS = [1500, 1600, 1700, 1800, 1900, 2000]
GRID_YEARS = [1600, 1700, 1800, 1900]

# ---- canvas, all geometry in pixels of the 1855x1225 figure ----
W, H = 1855, 1225
fig = plt.figure(figsize=(W / 100, H / 100), dpi=100)
fig.patch.set_facecolor('#badfe3')
fig.patches.append(Rectangle((5 / W, 1 - 1219 / H), 1844 / W, 1213 / H, transform=fig.transFigure,
                             facecolor='white', edgecolor='black', lw=1.0, zorder=-10))

TXT = '#2b2b2b'

# column geometry: first top-tick y, panel period, tick span, x of 1500, px per century, spine x
layouts = [
    (COLUMN_1, 60.7, 136.6, 117.0, 99.0, 70.2, 83.0),
    (COLUMN_2, 61.8, 136.2, 116.6, 543.3, 70.1, 530.0),
    (COLUMN_3, 58.3, 139.0, 119.0, 990.3, 71.4, 974.3),
    (COLUMN_4, 59.0, 139.0, 119.0, 1441.7, 71.3, 1427.7),
]
X_RIGHT = 2045

for panels, top0, period, span, x1500, ppc, spine in layouts:
    n = len(panels)
    yr_left = 1500 - (x1500 - spine) / ppc * 100
    right_px = x1500 + (X_RIGHT - 1500) * ppc / 100
    g = (period - span) / 2
    for j, (name, lo, hi, pts, fit) in enumerate(panels):
        t = top0 + j * period
        b = t + span
        ax_top = t - (4.7 if j == 0 else g)
        ax_bot = b + (4.7 if j == n - 1 else g)
        ppu = span / (hi - lo)
        ax = fig.add_axes([spine / W, 1 - ax_bot / H, (right_px - spine) / W, (ax_bot - ax_top) / H])
        ax.patch.set_alpha(0)
        ax.set_xlim(yr_left, X_RIGHT)
        ax.set_ylim(lo - (ax_bot - b) / ppu, hi + (t - ax_top) / ppu)
        for s in ('top', 'right'):
            ax.spines[s].set_visible(False)
        ax.spines['left'].set_bounds(lo, hi)
        ax.set_yticks(range(lo, hi + 1))
        ax.tick_params(axis='y', length=5.8, width=1.0, pad=6.5, labelsize=10, labelcolor=TXT)

        if j == n - 1:
            ax.spines['bottom'].set_bounds(1500, 2000)
            ax.set_xticks(YEAR_TICKS)
            ax.tick_params(axis='x', length=6.5, width=1.0, pad=9, labelsize=11, labelcolor=TXT)
            fig.text((x1500 + 2.5 * ppc) / W, 1 - (ax_bot + 56.5) / H, 'Estimated Year',
                     ha='center', va='center', fontsize=14, color=TXT)
        else:
            ax.spines['bottom'].set_visible(False)
            ax.tick_params(axis='x', bottom=False, labelbottom=False)

        for gy in GRID_YEARS:
            ax.axvline(gy, color='#a8a8a8', lw=0.9, ls=(0, (5, 7)), zorder=1)

        xs = [p[0] for p in pts]
        ys = [p[1] for p in pts]
        ax.plot(xs, ys, ls='none', marker='+', ms=8, mew=1.1, color='black', clip_on=False, zorder=3)
        ax.plot([p[0] for p in fit], [p[1] for p in fit], color='#0000ff', lw=2.3, zorder=4,
                solid_joinstyle='round', solid_capstyle='round')

        fig.text((spine + 17.5) / W, 1 - (t + 9) / H, name, ha='left', va='center',
                 fontsize=11.5, color=TXT)

# green boxes round the reference (no salmon) lakes
for x0, y0, x1, y1 in [(76.7, 1004, 512.3, 1179.3), (521, 733.3, 955, 906), (970, 883.3, 1404, 1061)]:
    fig.patches.append(Rectangle((x0 / W, 1 - y1 / H), (x1 - x0) / W, (y1 - y0) / H,
                                 transform=fig.transFigure, fill=False, edgecolor='#0a960a',
                                 lw=2.5, zorder=10))

fig.text(28 / W, 1 - 595 / H, 'δ$^{15}$N', rotation=90, ha='center', va='center',
         fontsize=11, color=TXT)
fig.text(1293 / W, 1 - 1168 / H, 'Lakes in green boxes have no salmon in them',
         ha='center', va='center', fontsize=30.5, fontweight='bold', color='black')

fig.savefig('out.png', dpi=100, facecolor=fig.get_facecolor())
